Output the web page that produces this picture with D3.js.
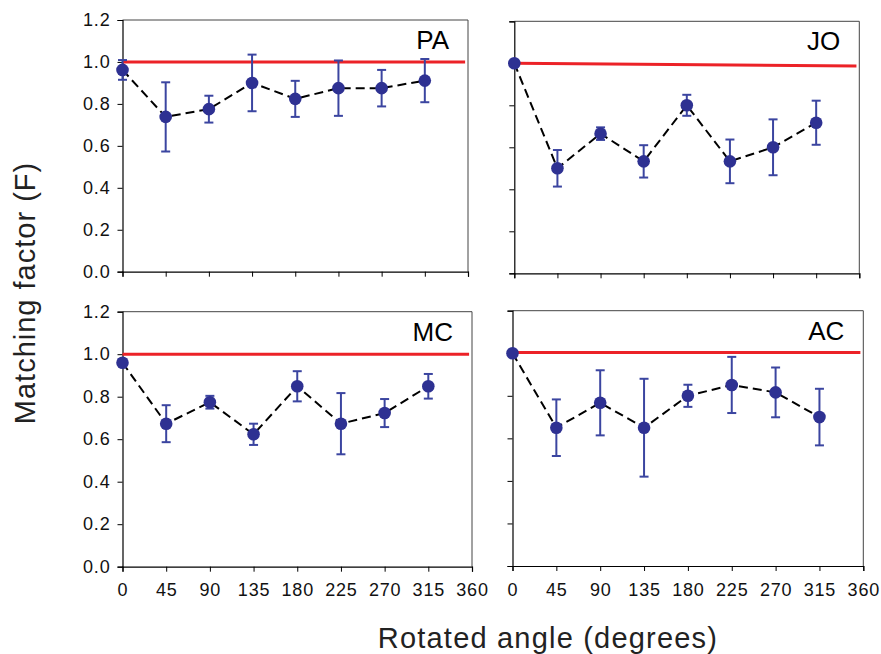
<!DOCTYPE html>
<html>
<head>
<meta charset="utf-8">
<script src="https://cdn.jsdelivr.net/npm/d3@7"></script>
<style>
  html, body { margin: 0; padding: 0; background: #fff; }
  svg { display: block; font-family: "Liberation Sans", Arial, Helvetica, sans-serif; }
</style>
</head>
<body>
<svg id="chart" width="881" height="654"></svg>
<script>
// ---- data ----
const angles = [0, 45, 90, 135, 180, 225, 270, 315];
const xTicks = [0, 45, 90, 135, 180, 225, 270, 315, 360];
const yTicks = [0.0, 0.2, 0.4, 0.6, 0.8, 1.0, 1.2];
const yTickLabels = ["0.0", "0.2", "0.4", "0.6", "0.8", "1.0", "1.2"];
const panelNames = ["PA", "JO", "MC", "AC"];

const paMean = [0.962, 0.738, 0.775, 0.900, 0.824, 0.875, 0.875, 0.911];
const paErr  = [0.047, 0.165, 0.064, 0.135, 0.086, 0.132, 0.087, 0.103];
const joMean = [1.000, 0.500, 0.665, 0.533, 0.800, 0.533, 0.600, 0.717];
const joErr  = [0.000, 0.087, 0.030, 0.077, 0.050, 0.104, 0.133, 0.105];
const mcMean = [0.960, 0.673, 0.774, 0.623, 0.849, 0.673, 0.723, 0.849];
const mcErr  = [0.015, 0.087, 0.030, 0.050, 0.071, 0.144, 0.066, 0.058];
const acMean = [1.000, 0.650, 0.767, 0.650, 0.800, 0.851, 0.816, 0.700];
const acErr  = [0.000, 0.133, 0.153, 0.230, 0.052, 0.132, 0.117, 0.133];

// reference line (x start, x end, y start, y end) per panel
const refLineX = [0, 357];
const refLineY = {PA: [1.0, 1.0], JO: [1.0, 0.987], MC: [1.0, 1.0], AC: [1.003, 1.003]};

const seriesMeans = {PA: paMean, JO: joMean, MC: mcMean, AC: acMean};
const seriesErrs  = {PA: paErr,  JO: joErr,  MC: mcErr,  AC: acErr};

// ---- layout ----
const layout = {
  PA: {x0: 122.5, x1: 468,   y0: 20,    y1: 271.7, showX: false, showY: true},
  JO: {x0: 514.3, x1: 859.3, y0: 21.3,  y1: 273.3, showX: false, showY: false},
  MC: {x0: 122.5, x1: 472,   y0: 311.7, y1: 566.7, showX: true,  showY: true},
  AC: {x0: 512.5, x1: 863.3, y0: 310.7, y1: 566,   showX: true,  showY: false}
};

const markerColor = "#2e3192";
const errColor = "#3b45a0";
const refColor = "#ec2227";

const svg = d3.select("#chart");

panelNames.forEach(name => {
  const L = layout[name];
  const x = d3.scaleLinear().domain([0, 360]).range([L.x0, L.x1]);
  const y = d3.scaleLinear().domain([0, 1.2]).range([L.y1, L.y0]);
  const g = svg.append("g");

  // frame top & right
  g.append("line").attr("x1", L.x0).attr("x2", L.x1).attr("y1", L.y0).attr("y2", L.y0)
    .attr("stroke", "#444").attr("stroke-width", 1);
  g.append("line").attr("x1", L.x1).attr("x2", L.x1).attr("y1", L.y0).attr("y2", L.y1)
    .attr("stroke", "#444").attr("stroke-width", 1);

  // y axis
  const yAxis = d3.axisLeft(y).tickValues(yTicks).tickSize(5).tickPadding(7)
    .tickFormat((d, i) => L.showY ? yTickLabels[i] : "");
  const ya = g.append("g").attr("transform", `translate(${L.x0},0)`).call(yAxis);
  // x axis
  const xAxis = d3.axisBottom(x).tickValues(xTicks).tickSize(5).tickPadding(12)
    .tickFormat(d => L.showX ? d : "");
  const xa = g.append("g").attr("transform", `translate(0,${L.y1})`).call(xAxis);
  [ya, xa].forEach(a => {
    a.select(".domain").attr("stroke", "#000").attr("stroke-width", 1.2);
    a.selectAll(".tick line").attr("stroke", "#000").attr("stroke-width", 1);
    a.selectAll(".tick text").attr("fill", "#111")
      .style("font-family", '"Liberation Sans", Arial, sans-serif')
      .style("font-size", "18px").style("letter-spacing", "0.8px");
  });
  xa.selectAll(".tick text").attr("dy", "0.71em");

  // reference line
  g.append("line")
    .attr("x1", x(refLineX[0])).attr("x2", x(refLineX[1]))
    .attr("y1", y(refLineY[name][0])).attr("y2", y(refLineY[name][1]))
    .attr("stroke", refColor).attr("stroke-width", 3);

  const means = seriesMeans[name];
  const errs = seriesErrs[name];
  const pts = angles.map((a, i) => ({a, m: means[i], e: errs[i]}));

  // dashed connecting line
  g.append("path").datum(pts)
    .attr("d", d3.line().x(d => x(d.a)).y(d => y(d.m)))
    .attr("fill", "none").attr("stroke", "#000").attr("stroke-width", 2)
    .attr("stroke-dasharray", "9,5");

  // error bars
  const eb = g.append("g").attr("stroke", errColor).attr("stroke-width", 2);
  pts.filter(d => d.e > 0).forEach(d => {
    const cx = x(d.a);
    eb.append("line").attr("x1", cx).attr("x2", cx).attr("y1", y(d.m - d.e)).attr("y2", y(d.m + d.e));
    eb.append("line").attr("x1", cx - 4.5).attr("x2", cx + 4.5).attr("y1", y(d.m - d.e)).attr("y2", y(d.m - d.e));
    eb.append("line").attr("x1", cx - 4.5).attr("x2", cx + 4.5).attr("y1", y(d.m + d.e)).attr("y2", y(d.m + d.e));
  });

  // markers
  g.selectAll("circle.pt").data(pts).enter().append("circle")
    .attr("class", "pt")
    .attr("cx", d => x(d.a)).attr("cy", d => y(d.m)).attr("r", 6.3)
    .attr("fill", markerColor);

  // panel label
  g.append("text").attr("x", L.x1 - 19).attr("y", L.y0 + 29)
    .attr("text-anchor", "end").attr("font-size", 26).attr("fill", "#000")
    .text(name);
});

// axis titles
svg.append("text")
  .attr("x", 548).attr("y", 648)
  .attr("text-anchor", "middle").attr("font-size", 29).style("letter-spacing", "1.2px")
  .attr("fill", "#222")
  .text("Rotated angle (degrees)");

svg.append("text")
  .attr("transform", "translate(35,293) rotate(-90)")
  .attr("text-anchor", "middle").attr("font-size", 29).style("letter-spacing", "1px")
  .attr("fill", "#222")
  .text("Matching factor (F)");
</script>
</body>
</html>
